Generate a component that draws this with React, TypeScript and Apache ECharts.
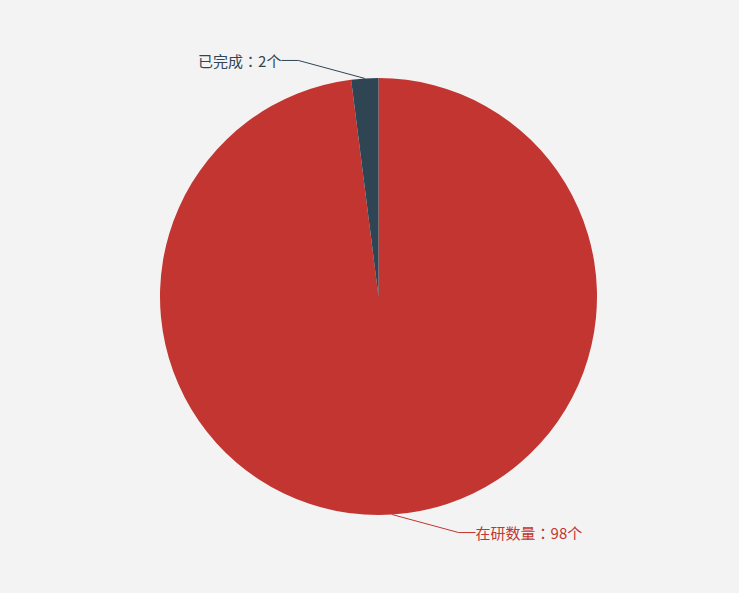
import React, { useEffect, useRef } from "react";
import * as echarts from "echarts";

const categories = ["在研数量", "已完成"];
const values = [98, 2];
const colors = ["#c23531", "#2f4554"];

export default function App() {
  const ref = useRef<HTMLDivElement>(null);
  useEffect(() => {
    document.body.style.margin = "0";
    const chart = echarts.init(ref.current!, undefined, { renderer: "svg" });
    const cx = 378.5;
    const cy = 296.5;
    const r = 218.5;
    const len2 = 17;
    chart.setOption({
      animation: false,
      backgroundColor: "#f3f3f3",
      color: colors,
      series: [
        {
          type: "pie",
          center: [cx, cy],
          radius: r,
          data: categories.map((name, i) => ({ name, value: values[i] })),
          label: {
            formatter: "{b}：{c}个",
            fontSize: 15,
            fontFamily: "Noto Sans CJK TC",
            color: "inherit",
            padding: [0, 4],
          },
          labelLine: { length: 20, length2: len2, lineStyle: { width: 1 } },
          labelLayout: (p: any) => {
            // emulate the older layout: label pushed out along a circle of radius r+29.5
            const total = values.reduce((a, b) => a + b, 0);
            let acc = 0;
            for (let i = 0; i < p.dataIndex; i++) acc += values[i];
            const mid = ((acc + values[p.dataIndex] / 2) / total) * Math.PI * 2;
            const s = -Math.cos(mid);
            const dirX = Math.sin(mid) >= 0 ? 1 : -1;
            const y = cy + s * (r + 18);
            const dy = Math.abs(y - cy);
            const R = r + 29.5;
            const dx = Math.sqrt(Math.max(R * R - dy * dy, 0));
            const x = cx + dirX * (dx + len2);
            return {
              x,
              y,
              align: dirX > 0 ? "left" : "right",
              verticalAlign: "middle",
            };
          },
        },
      ],
    });
    return () => chart.dispose();
  }, []);
  return (
    <div
      ref={ref}
      style={{ position: "fixed", left: 0, top: 0, width: 739, height: 593 }}
    />
  );
}
